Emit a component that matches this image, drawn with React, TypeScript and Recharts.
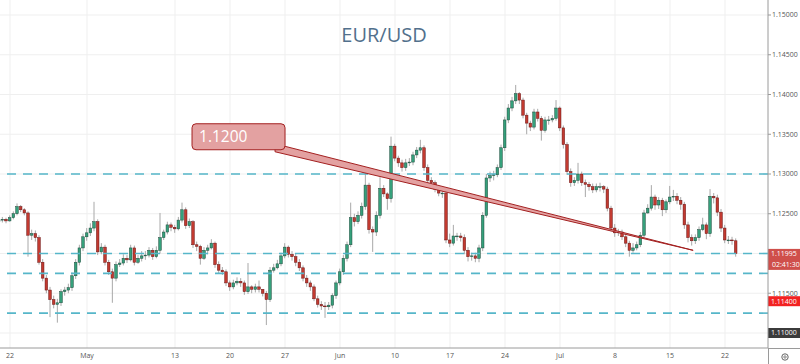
import { Bar, CartesianGrid, ComposedChart, ReferenceLine, XAxis, YAxis } from "recharts"

// 8h candles, prices kept as pips above 1.1000 (245 -> 1.1245)
const firstOpen = 240
const closes = [
  242, 243, 241, 245, 250, 259, 255, 251, 223, 225,
  220, 189, 169, 154, 142, 136, 138, 152, 154, 157,
  172, 189, 207, 221, 226, 232, 240, 202, 208, 189,
  177, 169, 186, 188, 194, 192, 207, 189, 194, 197,
  198, 204, 196, 204, 220, 227, 236, 233, 231, 242,
  255, 235, 240, 211, 209, 194, 204, 207, 213, 186,
  179, 177, 163, 158, 163, 165, 163, 152, 158, 155,
  158, 155, 150, 142, 179, 182, 187, 197, 208, 199,
  196, 189, 182, 169, 163, 158, 143, 136, 134, 133,
  135, 147, 163, 177, 194, 211, 245, 240, 248, 259,
  286, 230, 227, 248, 282, 275, 269, 335, 320, 314,
  308, 314, 315, 324, 330, 333, 308, 292, 289, 281,
  276, 276, 217, 213, 222, 222, 220, 204, 196, 197,
  194, 207, 248, 295, 298, 299, 308, 333, 368, 383,
  392, 401, 393, 374, 364, 359, 378, 370, 355, 368,
  368, 370, 383, 358, 337, 303, 289, 292, 300, 289,
  287, 284, 280, 284, 284, 281, 257, 232, 226, 227,
  221, 213, 204, 207, 211, 223, 251, 257, 271, 261,
  267, 255, 265, 271, 272, 267, 262, 236, 220, 216,
  220, 230, 236, 225, 272, 270, 252, 232, 217, 217,
  216, 200,
]
const highs = [
  245, 246, 245, 248, 253, 263, 261, 257, 253, 230,
  229, 223, 193, 173, 158, 147, 143, 155, 158, 162,
  176, 193, 211, 225, 232, 238, 265, 243, 213, 211,
  192, 181, 190, 193, 199, 198, 211, 210, 198, 203,
  203, 208, 207, 209, 251, 230, 240, 239, 236, 246,
  264, 258, 244, 242, 215, 211, 208, 211, 218, 215,
  190, 183, 180, 166, 167, 170, 169, 166, 188, 160,
  162, 166, 154, 153, 183, 187, 192, 201, 213, 210,
  203, 200, 193, 185, 173, 166, 161, 147, 140, 139,
  139, 150, 166, 181, 198, 215, 264, 250, 253, 264,
  301, 289, 234, 253, 296, 286, 277, 347, 338, 323,
  318, 319, 320, 328, 334, 343, 336, 312, 296, 292,
  285, 282, 279, 225, 236, 226, 226, 224, 208, 201,
  201, 211, 252, 300, 303, 304, 312, 337, 372, 388,
  397, 412, 403, 396, 377, 367, 382, 382, 373, 372,
  373, 374, 393, 385, 361, 340, 307, 296, 314, 303,
  293, 290, 288, 288, 289, 286, 284, 260, 237, 231,
  230, 225, 216, 213, 215, 227, 255, 262, 286, 274,
  271, 270, 268, 285, 280, 276, 271, 265, 240, 224,
  224, 234, 245, 239, 281, 276, 274, 256, 236, 222,
  221, 219,
]
const lows = [
  237, 239, 238, 240, 243, 248, 252, 248, 196, 217,
  215, 186, 165, 150, 120, 131, 113, 134, 147, 150,
  153, 168, 185, 203, 216, 222, 228, 198, 199, 185,
  173, 138, 165, 183, 185, 188, 190, 185, 187, 190,
  192, 195, 192, 194, 200, 217, 224, 228, 226, 229,
  239, 231, 232, 207, 203, 186, 192, 199, 205, 182,
  175, 173, 159, 153, 155, 160, 158, 148, 149, 150,
  151, 151, 146, 110, 139, 176, 180, 184, 194, 195,
  191, 184, 178, 165, 158, 153, 140, 132, 129, 119,
  129, 131, 143, 160, 173, 190, 208, 234, 237, 244,
  255, 225, 202, 222, 244, 271, 255, 264, 316, 309,
  303, 304, 310, 311, 320, 326, 304, 287, 284, 277,
  272, 270, 213, 208, 210, 216, 215, 199, 190, 191,
  189, 189, 203, 245, 290, 292, 296, 305, 329, 364,
  379, 388, 388, 370, 350, 354, 356, 366, 342, 352,
  362, 365, 367, 354, 332, 299, 284, 285, 288, 285,
  271, 279, 276, 277, 278, 276, 253, 228, 221, 222,
  217, 208, 196, 201, 204, 208, 220, 250, 254, 255,
  256, 247, 251, 262, 266, 262, 255, 231, 214, 210,
  212, 216, 228, 218, 221, 263, 247, 227, 213, 212,
  211, 196,
]

// candle index of the first bar of each labelled day
const tickIndex = [3, 24, 48, 63, 78, 93, 108, 123, 138, 153, 168, 183, 198]
const tickLabels = ["22", "May", "13", "20", "27", "Jun", "10", "17", "24", "Jul", "8", "15", "22"]
const priceGrid = [1.11, 1.115, 1.12, 1.125, 1.13, 1.135, 1.14, 1.145, 1.15]
const priceTicks = [1.115, 1.125, 1.13, 1.135, 1.14, 1.145, 1.15]
const levels = [1.13, 1.12, 1.1175, 1.1125]

const lastPrice = 1.11995
const countdown = "02:41:30"
const alertPrice = 1.114
const markPrice = 1.11

// callout: anchor near the box and the point it points to
const calloutText = "1.1200"
const calloutFrom = { x: 78, y: 1.1333 }
const calloutTo = { x: 189.3, y: 1.1204 }

const toPrice = (p: number) => 1.1 + p / 10000

const data = closes.map((c, i) => {
  const open = toPrice(i === 0 ? firstOpen : closes[i - 1])
  const close = toPrice(c)
  const high = Math.max(toPrice(highs[i]), open, close)
  const low = Math.min(toPrice(lows[i]), open, close)
  return { i, open, close, high, low, range: [low, high] }
})

function Candle(props: any) {
  const { x, y, width, height, payload } = props
  if (x == null || !payload) return null
  const { open, close, high, low } = payload
  const top = Math.min(y, y + height)
  const h = Math.abs(height)
  const cx = x + width / 2
  const k = h / (high - low || 1e-9)
  const yOf = (v: number) => top + (high - v) * k
  const up = close >= open
  const bTop = yOf(Math.max(open, close))
  const bBot = yOf(Math.min(open, close))
  return (
    <g>
      <line x1={cx} x2={cx} y1={top} y2={top + h} stroke="#a8a8a8" strokeWidth={1} />
      <rect
        x={cx - 1.3}
        y={bTop}
        width={2.6}
        height={Math.max(bBot - bTop, 0.8)}
        fill={up ? "#35a07b" : "#c23a30"}
        stroke={up ? "#1e4a3c" : "#6a1515"}
        strokeWidth={0.5}
      />
    </g>
  )
}

function Callout(props: any) {
  const { x1, y1, x2, y2 } = props
  if (x1 == null) return null
  return (
    <g>
      <polygon
        points={`${x1 - 10},${y1 - 4} ${x1 - 10},${y1 + 4} ${x2},${y2}`}
        fill="#e3a1a1"
        stroke="#a32020"
        strokeWidth={1}
      />
      <rect x={x1 - 93} y={y1 - 24} width={93} height={26} rx={4} fill="#e3a1a1" stroke="#a32020" strokeWidth={1} />
      <text x={x1 - 86} y={y1 - 5.5} fill="#ffffff" fontSize={15.5} fontFamily="Open Sans">
        {calloutText}
      </text>
    </g>
  )
}

function PriceTag({ viewBox, text, sub, color }: any) {
  if (!viewBox) return null
  const x = viewBox.x + viewBox.width
  const y = viewBox.y
  const h = sub ? 21 : 10
  return (
    <g>
      <rect x={x} y={y - 5} width={32} height={h} fill={color} />
      <text x={x + 3} y={y + 2.5} fill="#fff" fontSize={7} fontFamily="Open Sans">
        {text}
      </text>
      {sub && (
        <text x={x + 4} y={y + 13} fill="#fff" fontSize={7} fontFamily="Open Sans">
          {sub}
        </text>
      )}
    </g>
  )
}

export default function App() {
  return (
    <div style={{ position: "absolute", left: 0, top: 0, width: 800, height: 364, background: "#fff" }}>
      <ComposedChart width={800} height={364} data={data} margin={{ top: 0, right: 0, bottom: 0, left: 0 }}>
        <CartesianGrid
          stroke="#efefef"
          horizontalValues={priceGrid}
          verticalValues={tickIndex}
        />
        <XAxis
          type="number"
          dataKey="i"
          domain={[0.27, 209.72]}
          allowDataOverflow
          ticks={tickIndex}
          tickFormatter={(v) => tickLabels[tickIndex.indexOf(v)] ?? ""}
          height={16}
          tickSize={3}
          tickMargin={2}
          tickLine={false}
          axisLine={{ stroke: "#9a9a9a" }}
          tick={{ fontSize: 7, fill: "#555", fontFamily: "Open Sans" }}
          interval={0}
        />
        <YAxis
          orientation="right"
          type="number"
          domain={[1.108113, 1.151887]}
          allowDataOverflow
          ticks={priceTicks}
          tickFormatter={(v) => v.toFixed(5)}
          width={32}
          tickSize={3}
          tickMargin={1}
          axisLine={{ stroke: "#9a9a9a" }}
          tickLine={{ stroke: "#9a9a9a" }}
          tick={{ fontSize: 7, fill: "#555", fontFamily: "Open Sans" }}
          interval={0}
        />
        {levels.map((v) => (
          <ReferenceLine key={v} y={v} stroke="#56b6c9" strokeWidth={1.6} strokeDasharray="9 7" />
        ))}
        <Bar dataKey="range" barSize={3} shape={(p: any) => <Candle {...p} />} isAnimationActive={false} />
        <ReferenceLine
          segment={[calloutFrom, calloutTo]}
          ifOverflow="visible"
          shape={(p: any) => <Callout {...p} />}
        />
        <ReferenceLine
          y={markPrice}
          stroke="none"
          label={(p: any) => <PriceTag {...p} text={markPrice.toFixed(5)} color="#3b3b3b" />}
        />
        <ReferenceLine
          y={alertPrice}
          stroke="none"
          label={(p: any) => <PriceTag {...p} text={alertPrice.toFixed(5)} color="#f22222" />}
        />
        <ReferenceLine
          y={lastPrice}
          stroke="none"
          label={(p: any) => <PriceTag {...p} text={lastPrice.toFixed(5)} sub={countdown} color="#cf4f4b" />}
        />
      </ComposedChart>
      <div
        style={{
          position: "absolute",
          left: 0,
          top: 21,
          width: 768,
          textAlign: "center",
          fontFamily: "Open Sans",
          fontSize: 20,
          color: "#52708c",
          lineHeight: "27px",
        }}
      >
        EUR/USD
      </div>
      <div
        style={{
          position: "absolute",
          left: 768,
          top: 348,
          width: 32,
          height: 16,
          borderLeft: "1px solid #9a9a9a",
          borderTop: "1px solid #9a9a9a",
          boxSizing: "border-box",
        }}
      >
        <svg width={31} height={15} style={{ display: "block" }}>
          <circle cx={16} cy={8} r={3.2} fill="none" stroke="#666" strokeWidth={1} />
          <circle cx={16} cy={8} r={1.2} fill="none" stroke="#666" strokeWidth={0.8} />
        </svg>
      </div>
    </div>
  )
}
